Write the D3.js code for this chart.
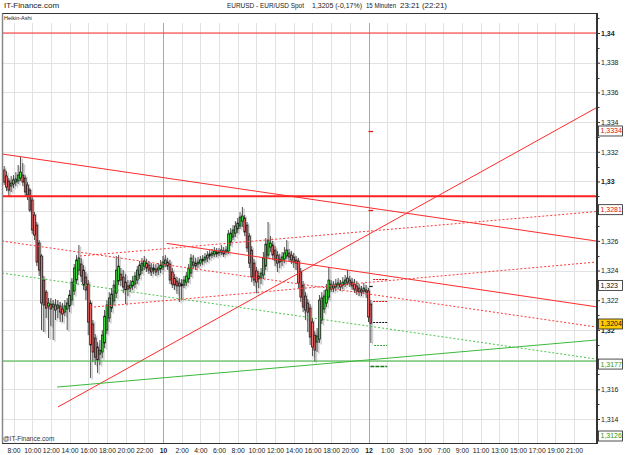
<!DOCTYPE html>
<html><head><meta charset="utf-8">
<script src="https://cdn.jsdelivr.net/npm/d3@7"></script>
<style>body{margin:0;background:#fff;} svg{display:block;font-family:"Liberation Sans",Arial,sans-serif;}</style>
</head><body><svg id="c" width="625" height="455"></svg>
<script>
// ---- Heikin-Ashi 15-minute candles (EUR/USD), first candle 7:00 on day 9 ----
const haOpen=[1.33077,1.33037,1.33003,1.32969,1.32983,1.32996,1.33003,1.33023,1.33043,1.33023,1.32976,1.32942,1.32875,1.32774,1.32706,1.32585,1.32498,1.32336,1.32255,1.32161,1.32174,1.32154,1.32168,1.32147,1.32161,1.32141,1.32120,1.32141,1.32161,1.32201,1.32262,1.32336,1.32403,1.32444,1.32403,1.32356,1.32309,1.32181,1.32040,1.31945,1.31885,1.31837,1.31851,1.31912,1.31999,1.32080,1.32147,1.32195,1.32248,1.32329,1.32376,1.32356,1.32322,1.32296,1.32282,1.32296,1.32309,1.32336,1.32370,1.32403,1.32430,1.32450,1.32437,1.32417,1.32403,1.32410,1.32403,1.32410,1.32424,1.32444,1.32457,1.32444,1.32390,1.32349,1.32329,1.32316,1.32309,1.32302,1.32322,1.32343,1.32383,1.32437,1.32450,1.32444,1.32450,1.32464,1.32471,1.32484,1.32498,1.32504,1.32511,1.32525,1.32518,1.32525,1.32531,1.32525,1.32531,1.32592,1.32626,1.32652,1.32680,1.32700,1.32733,1.32754,1.32706,1.32632,1.32538,1.32450,1.32397,1.32363,1.32349,1.32370,1.32430,1.32504,1.32558,1.32572,1.32538,1.32504,1.32477,1.32464,1.32477,1.32498,1.32518,1.32504,1.32491,1.32471,1.32464,1.32390,1.32302,1.32228,1.32181,1.32147,1.32053,1.31965,1.31918,1.31938,1.32067,1.32141,1.32181,1.32221,1.32275,1.32296,1.32289,1.32302,1.32309,1.32302,1.32309,1.32322,1.32336,1.32322,1.32309,1.32296,1.32282,1.32269,1.32262,1.32269,1.32262,1.32174];
const haClose=[1.32996,1.32962,1.32942,1.32989,1.33010,1.33016,1.33043,1.33063,1.32996,1.32929,1.32909,1.32807,1.32673,1.32639,1.32457,1.32403,1.32181,1.32168,1.32147,1.32181,1.32141,1.32174,1.32134,1.32168,1.32120,1.32107,1.32161,1.32181,1.32235,1.32322,1.32417,1.32471,1.32484,1.32363,1.32302,1.32269,1.32053,1.31898,1.31851,1.31817,1.31797,1.31864,1.31965,1.32093,1.32168,1.32215,1.32242,1.32302,1.32403,1.32430,1.32336,1.32289,1.32269,1.32275,1.32302,1.32329,1.32363,1.32403,1.32437,1.32450,1.32464,1.32417,1.32403,1.32390,1.32417,1.32390,1.32417,1.32437,1.32457,1.32471,1.32430,1.32336,1.32309,1.32302,1.32296,1.32296,1.32296,1.32336,1.32363,1.32417,1.32484,1.32457,1.32430,1.32457,1.32471,1.32477,1.32491,1.32504,1.32511,1.32518,1.32531,1.32511,1.32525,1.32538,1.32511,1.32538,1.32646,1.32652,1.32673,1.32700,1.32720,1.32760,1.32767,1.32659,1.32552,1.32450,1.32356,1.32336,1.32322,1.32343,1.32383,1.32484,1.32578,1.32605,1.32585,1.32504,1.32471,1.32450,1.32457,1.32491,1.32518,1.32538,1.32491,1.32471,1.32457,1.32450,1.32316,1.32221,1.32154,1.32134,1.32120,1.31952,1.31885,1.31864,1.31959,1.32201,1.32215,1.32228,1.32269,1.32336,1.32309,1.32282,1.32309,1.32316,1.32289,1.32322,1.32336,1.32349,1.32309,1.32296,1.32275,1.32262,1.32255,1.32255,1.32282,1.32255,1.32087,1.32045];
const haHigh=[1.33104,1.33070,1.33023,1.33037,1.33043,1.33063,1.33111,1.33165,1.33124,1.33043,1.32996,1.32956,1.32895,1.32794,1.32727,1.32605,1.32511,1.32363,1.32269,1.32215,1.32215,1.32201,1.32208,1.32201,1.32188,1.32181,1.32201,1.32215,1.32269,1.32349,1.32444,1.32504,1.32572,1.32484,1.32437,1.32390,1.32336,1.32201,1.32067,1.31972,1.31918,1.31932,1.31999,1.32134,1.32201,1.32255,1.32282,1.32336,1.32498,1.32504,1.32417,1.32403,1.32376,1.32336,1.32336,1.32363,1.32390,1.32430,1.32464,1.32484,1.32498,1.32477,1.32464,1.32450,1.32444,1.32444,1.32450,1.32471,1.32498,1.32504,1.32484,1.32471,1.32417,1.32376,1.32356,1.32349,1.32343,1.32363,1.32390,1.32444,1.32511,1.32504,1.32484,1.32491,1.32498,1.32504,1.32518,1.32531,1.32538,1.32545,1.32558,1.32552,1.32552,1.32572,1.32558,1.32565,1.32673,1.32686,1.32706,1.32733,1.32754,1.32794,1.32828,1.32774,1.32727,1.32652,1.32565,1.32477,1.32424,1.32397,1.32417,1.32525,1.32619,1.32727,1.32632,1.32599,1.32565,1.32531,1.32511,1.32525,1.32558,1.32605,1.32545,1.32531,1.32518,1.32498,1.32484,1.32417,1.32329,1.32255,1.32208,1.32174,1.32080,1.31992,1.32013,1.32235,1.32255,1.32269,1.32309,1.32424,1.32336,1.32329,1.32343,1.32349,1.32336,1.32356,1.32370,1.32403,1.32363,1.32349,1.32343,1.32329,1.32309,1.32296,1.32316,1.32302,1.32282,1.32201];
const haLow=[1.32976,1.32935,1.32902,1.32929,1.32956,1.32969,1.32983,1.33003,1.32969,1.32902,1.32875,1.32794,1.32646,1.32605,1.32430,1.32363,1.31999,1.31986,1.32080,1.31945,1.32026,1.31932,1.32067,1.32080,1.32053,1.32053,1.32093,1.31999,1.32120,1.32168,1.32235,1.32309,1.32370,1.32322,1.32269,1.32201,1.31965,1.31676,1.31784,1.31763,1.31710,1.31763,1.31810,1.31878,1.31972,1.32053,1.32120,1.32168,1.32215,1.32302,1.32296,1.32248,1.32174,1.32228,1.32255,1.32269,1.32282,1.32309,1.32343,1.32376,1.32403,1.32390,1.32376,1.32363,1.32376,1.32363,1.32370,1.32383,1.32403,1.32424,1.32403,1.32309,1.32282,1.32269,1.32242,1.32188,1.32201,1.32282,1.32296,1.32316,1.32356,1.32417,1.32403,1.32417,1.32430,1.32437,1.32450,1.32457,1.32471,1.32484,1.32491,1.32491,1.32498,1.32504,1.32491,1.32504,1.32511,1.32565,1.32605,1.32626,1.32652,1.32680,1.32693,1.32632,1.32525,1.32417,1.32322,1.32296,1.32248,1.32282,1.32309,1.32343,1.32403,1.32484,1.32525,1.32471,1.32430,1.32390,1.32417,1.32430,1.32450,1.32477,1.32464,1.32444,1.32417,1.32403,1.32282,1.32188,1.32120,1.32067,1.31986,1.31898,1.31824,1.31784,1.31851,1.31912,1.32040,1.32114,1.32154,1.32201,1.32255,1.32255,1.32262,1.32275,1.32262,1.32275,1.32289,1.32302,1.32289,1.32269,1.32248,1.32235,1.32228,1.32228,1.32242,1.32215,1.32053,1.31912];
const candleStartHour=-1;      // hours relative to 8:00 of day 9 (trading-time axis)
const candleStepHours=0.25;

// ---- time axis ----
const xTickHours=[0,2,4,6,8,10,12,14,16,18,20,22,24,26,28,30,32,34,36,38,40,42,44,46,48,50,52,54,56,58,60];
const xTickLabels=["8:00","10:00","12:00","14:00","16:00","18:00","20:00","22:00","10","2:00","4:00","6:00","8:00","10:00","12:00","14:00","16:00","18:00","20:00","12","1:00","3:00","5:00","7:00","9:00","11:00","13:00","15:00","17:00","19:00","21:00"];
const dayStartHours=[16,38];

// ---- price axis (labels hidden behind price boxes are left empty) ----
const yTickValues=[1.314,1.316,1.318,1.320,1.322,1.324,1.326,1.328,1.330,1.332,1.334,1.336,1.338,1.340];
const yTickLabels=["1,314","1,316","","1,32","1,322","1,324","1,326","","1,33","1,332","1,334","1,336","1,338","1,34"];

// ---- drawn trend lines (time in hours, price) ----
const lineT1=[-1.23,4.76,16.40,7.12,8.19,-1.23,-1.23,4.66];
const lineP1=[1.33185,1.31481,1.32583,1.32498,1.32152,1.32599,1.32383,1.31615];
const lineT2=[62.35,62.35,62.35,62.35,62.35,62.35,62.35,62.35];
const lineP2=[1.32599,1.33495,1.32156,1.32797,1.32457,1.32020,1.31804,1.31932];
const lineKind=["redSolid","redSolid","redSolid","redDot","redDot","redDot","greenDot","greenSolid"];
const levelPrices=[1.3400,1.3290,1.3179];
const levelKind=["redSolid","redThick","greenSolid"];

// ---- level markers next to the last candle ----
const markerPrices=[1.33339,1.32807,1.32343,1.32296,1.32195,1.32053,1.31898,1.3176];
const markerKind=["redShort","redShort","redDash","blackShort","redDash","blackDash","greenDash","darkGreen"];

// ---- price boxes on the axis ----
const boxPrices=[1.3334,1.3281,1.323,1.3204,1.3177,1.3126];
const boxTexts=["1,3334","1,3281","1,323","1,3204","1,3177","1,3126"];
const boxKind=["red","red","black","current","green","green"];

// ================= drawing =================
const svg=d3.select("#c");
const L=2,R=597,T=13.5,G=23,B=443;
const x=d3.scaleLinear().domain([0,38]).range([13.5,368.5]);
const y=d3.scaleLinear().domain([1.314,1.34]).range([419,33]);

svg.append("rect").attr("width",625).attr("height",455).attr("fill","#fff");
svg.append("defs").append("clipPath").attr("id","clip").append("rect")
  .attr("x",L).attr("y",G).attr("width",R-L-1).attr("height",B-G);

// header texts
svg.append("text").attr("x",4).attr("y",8).attr("font-size",8).attr("fill","#222").text("IT-Finance.com");
const hdr=[["EURUSD - EUR/USD Spot",227,77],["1,3205 (-0,17%)",312,50],["15 Minuten",366,30],["23:21 (22:21)",400,47]];
hdr.forEach(h=>svg.append("text").attr("x",h[1]).attr("y",8).attr("font-size",7.5).attr("fill","#222")
  .attr("textLength",h[2]).attr("lengthAdjust","spacingAndGlyphs").text(h[0]));

// grid
const grid=svg.append("g");
grid.selectAll("line.h").data(yTickValues).join("line")
  .attr("x1",L).attr("x2",R).attr("y1",d=>Math.round(y(d))+0.5).attr("y2",d=>Math.round(y(d))+0.5)
  .attr("stroke","#e2e2e2").attr("stroke-width",1);
grid.selectAll("line.v").data(xTickHours).join("line")
  .attr("x1",d=>Math.round(x(d))+0.5).attr("x2",d=>Math.round(x(d))+0.5).attr("y1",G).attr("y2",B)
  .attr("stroke",d=>dayStartHours.includes(d)?"#a8a8a8":"#e2e2e2").attr("stroke-width",1);

// candles
const candles=haOpen.map((o,i)=>({t:candleStartHour+i*candleStepHours,o,c:haClose[i],h:haHigh[i],l:haLow[i]}));
const cg=svg.append("g").attr("clip-path","url(#clip)");
const bw=1.8;
cg.selectAll("rect.sh").data(candles).join("rect")
  .attr("x",d=>x(d.t)+0.9).attr("width",1.5)
  .attr("y",d=>y(d.h)+1.5).attr("height",d=>Math.max(1,y(d.l)-y(d.h)))
  .attr("fill","#a0a0a0").attr("opacity",0.5);
cg.selectAll("line.w").data(candles).join("line")
  .attr("x1",d=>x(d.t)).attr("x2",d=>x(d.t)).attr("y1",d=>y(d.h)).attr("y2",d=>y(d.l))
  .attr("stroke","#222").attr("stroke-width",0.8);
cg.selectAll("rect.b").data(candles).join("rect")
  .attr("x",d=>x(d.t)-bw/2).attr("width",bw)
  .attr("y",d=>y(Math.max(d.o,d.c))).attr("height",d=>Math.max(1,Math.abs(y(d.o)-y(d.c))))
  .attr("fill",d=>d.c>=d.o?"#3ee03e":"#f26a6a").attr("stroke","#111").attr("stroke-width",0.7);

// lines
const styles={
  redSolid:{c:"#ff2a2a",w:1,d:null},
  redThick:{c:"#ff2020",w:2,d:null},
  redDot:{c:"#ff3838",w:1,d:"2,2"},
  greenSolid:{c:"#3cb83c",w:1,d:null},
  greenDot:{c:"#4cc44c",w:1,d:"2,2"}
};
const lg=svg.append("g").attr("clip-path","url(#clip)");
const lines=lineKind.map((k,i)=>({k,t1:lineT1[i],p1:lineP1[i],t2:lineT2[i],p2:lineP2[i]}));
lg.selectAll("line.t").data(lines).join("line")
  .attr("x1",d=>x(d.t1)).attr("y1",d=>y(d.p1)).attr("x2",d=>x(d.t2)).attr("y2",d=>y(d.p2))
  .attr("stroke",d=>styles[d.k].c).attr("stroke-width",d=>styles[d.k].w)
  .attr("stroke-dasharray",d=>styles[d.k].d);
const levels=levelKind.map((k,i)=>({k,p:levelPrices[i]}));
svg.selectAll("line.lv").data(levels).join("line")
  .attr("x1",L).attr("x2",R-1).attr("y1",d=>y(d.p)).attr("y2",d=>y(d.p))
  .attr("stroke",d=>styles[d.k].c).attr("stroke-width",d=>styles[d.k].w);

// markers
const mStyle={
  redShort:{c:"#e01010",t1:38.0,t2:38.5,d:null,w:1.2},
  blackShort:{c:"#111",t1:38.1,t2:38.45,d:null,w:1.2},
  redDash:{c:"#e01010",t1:38.5,t2:40.0,d:"2,1",w:1.2},
  blackDash:{c:"#111",t1:38.5,t2:40.0,d:"2,1",w:1.2},
  greenDash:{c:"#2ea82e",t1:38.6,t2:40.0,d:"2,1",w:1.2},
  darkGreen:{c:"#137a13",t1:38.2,t2:40.0,d:"4,1",w:1.4}
};
const markers=markerKind.map((k,i)=>({k,p:markerPrices[i]}));
svg.selectAll("line.mk").data(markers).join("line")
  .attr("x1",d=>x(mStyle[d.k].t1)).attr("x2",d=>x(mStyle[d.k].t2))
  .attr("y1",d=>Math.round(y(d.p))+0.5).attr("y2",d=>Math.round(y(d.p))+0.5)
  .attr("stroke",d=>mStyle[d.k].c).attr("stroke-width",d=>mStyle[d.k].w)
  .attr("stroke-dasharray",d=>mStyle[d.k].d);

// frame
svg.append("line").attr("x1",L).attr("x2",R+1).attr("y1",T).attr("y2",T).attr("stroke","#333");
svg.append("line").attr("x1",L).attr("x2",R).attr("y1",B+0.5).attr("y2",B+0.5).attr("stroke","#333");
svg.append("line").attr("x1",L+0.5).attr("x2",L+0.5).attr("y1",T).attr("y2",B).attr("stroke","#888").attr("stroke-width",1.5);
svg.append("line").attr("x1",R).attr("x2",R).attr("y1",T).attr("y2",B+1).attr("stroke","#333").attr("stroke-width",2);
svg.append("text").attr("x",4).attr("y",19.5).attr("font-size",5.5).attr("fill","#222").text("Heikin-Ashi");
svg.append("text").attr("x",3).attr("y",441).attr("font-size",6.5).attr("fill","#333").text("@IT-Finance.com");

// y axis (right)
const yAxis=d3.axisRight(y).tickValues(yTickValues).tickSize(3)
  .tickFormat((d,i)=>yTickLabels[i]);
const ya=svg.append("g").attr("transform",`translate(${R},0)`).call(yAxis);
ya.select(".domain").remove();
ya.selectAll("line").attr("stroke","#333");
ya.selectAll("text").attr("x",4).attr("font-size",7).attr("fill","#222")
  .attr("font-family","Liberation Sans, Arial, sans-serif")
  .attr("font-weight",(d,i)=>yTickLabels[i].length===4?"bold":"normal");
const minor=d3.range(1.313,1.3415,0.001).filter(v=>!yTickValues.some(t=>Math.abs(t-v)<1e-6));
svg.selectAll("line.mn").data(minor).join("line")
  .attr("x1",R).attr("x2",R+2.5).attr("y1",d=>Math.round(y(d))+0.5).attr("y2",d=>Math.round(y(d))+0.5)
  .attr("stroke","#333").attr("stroke-width",1)
  .filter(d=>y(d)<T||y(d)>B).remove();

// x axis labels
const xAxis=d3.axisBottom(x).tickValues(xTickHours).tickSize(0).tickFormat((d,i)=>xTickLabels[i]);
const xa=svg.append("g").attr("transform",`translate(0,${B})`).call(xAxis);
xa.select(".domain").remove();
xa.selectAll("text").attr("y",5).attr("dy","0.71em").attr("font-size",6.8).attr("fill","#222")
  .attr("font-family","Liberation Sans, Arial, sans-serif")
  .attr("font-weight",(d,i)=>xTickLabels[i].indexOf(":")<0?"bold":"normal");

// price boxes
const boxCol={red:"#e01010",black:"#111",current:"#111",green:"#1f9a1f"};
const boxes=boxKind.map((k,i)=>({k,p:boxPrices[i],t:boxTexts[i]}));
const bg=svg.selectAll("g.bx").data(boxes).join("g")
  .attr("transform",d=>`translate(598.5,${Math.min(y(d.p),436)})`);
bg.append("rect").attr("x",0).attr("y",-5).attr("width",24).attr("height",10)
  .attr("fill",d=>d.k==="current"?"#ffcc00":"#fff").attr("stroke","#222").attr("stroke-width",0.8);
bg.append("text").attr("x",2).attr("y",0).attr("dy","0.35em").attr("font-size",7)
  .attr("fill",d=>boxCol[d.k]).text(d=>d.t);
</script></body></html>
